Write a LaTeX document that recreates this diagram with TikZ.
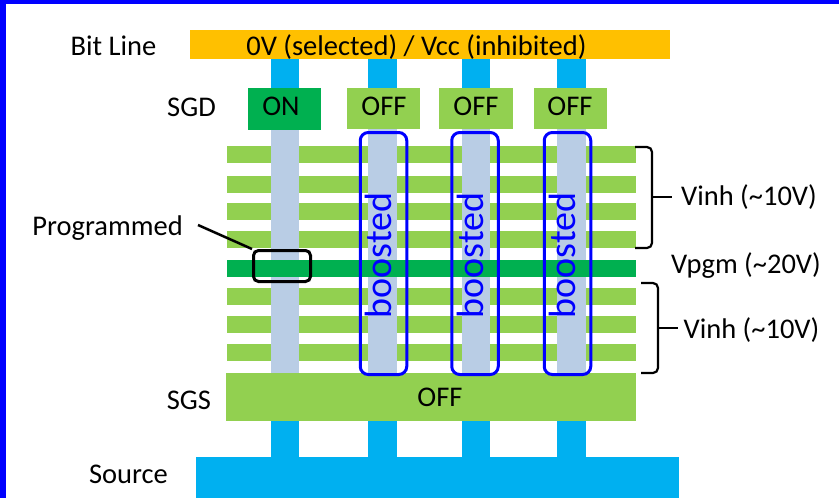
\documentclass[tikz,border=0pt]{standalone}
\usepackage{fontspec}
\setmainfont{Carlito}
\definecolor{bitorange}{HTML}{FFC000}
\definecolor{colblue}{HTML}{00B0F0}
\definecolor{dkgreen}{HTML}{00B050}
\definecolor{ltgreen}{HTML}{92D050}
\definecolor{chgray}{HTML}{B9CDE5}
\definecolor{boostblue}{HTML}{0000FF}
\begin{document}
\begin{tikzpicture}[x=1pt,y=-1pt,
  lbl/.style={inner sep=0pt,anchor=base,font=\fontsize{28.5}{30}\selectfont},
  boostbox/.style={draw=boostblue,line width=3pt,rounded corners=8pt,minimum width=46.5pt,minimum height=242pt,inner sep=0pt},
  boosttext/.style={inner sep=0pt,rotate=90,text=boostblue,font=\fontsize{38}{40}\selectfont},
  brace/.style={draw=black,line width=2.2pt,rounded corners=5pt},
]
\useasboundingbox (0,0) rectangle (839,498);
\fill[white] (0,0) rectangle (839,498);
% border
\fill[boostblue] (0,0) rectangle (6,498);
\fill[boostblue] (0,0) rectangle (839,4);
% bit line
\fill[bitorange] (190,30) rectangle (670,59);
% columns (upper and lower)
\foreach \a/\b in {271/299,368/397,462/490,557/586}{
  \fill[colblue] (\a,59) rectangle (\b,89);
  \fill[colblue] (\a,420) rectangle (\b,458);
}
% source
\fill[colblue] (196,457) rectangle (679,498);
% word lines
\foreach \t/\u in {146/163,176/193,203/220,231/248,288/305,316/333,344/361}{
  \fill[ltgreen] (227,\t) rectangle (636,\u);
}
% channels
\foreach \a/\b in {271/299,368/397,462/490,557/586}{
  \fill[chgray] (\a,129) rectangle (\b,373);
}
\fill[dkgreen] (227,260) rectangle (636,277);
% SGS
\fill[ltgreen] (226,373) rectangle (636,421);
% SGD
\fill[dkgreen] (248,88) rectangle (321,130);
\fill[ltgreen] (347,88) rectangle (420,129);
\fill[ltgreen] (439,88) rectangle (513,129);
\fill[ltgreen] (534,88) rectangle (607,129);
% texts
\node[lbl] (bitline) at (113.5,55) {Bit Line};
\node[lbl] (bltext) at (416.5,55) {0V (selected) / Vcc (inhibited)};
\node[lbl] (sgd) at (191.5,116) {SGD};
\node[lbl] (on) at (281,115) {ON};
\node[lbl] (off1) at (384,115) {OFF};
\node[lbl] (off2) at (476,115) {OFF};
\node[lbl] (off3) at (570,115) {OFF};
\node[lbl] (proglbl) at (107.5,235) {Programmed};
\node[lbl] (vinh1) at (749,205) {Vinh (\char`~10V)};
\node[lbl] (vpgm) at (746,273) {Vpgm (\char`~20V)};
\node[lbl] (vinh2) at (751.5,338) {Vinh (\char`~10V)};
\node[lbl] (sgs) at (189,409) {SGS};
\node[lbl] (sgsoff) at (440,406) {OFF};
\node[lbl] (source) at (128.5,483) {Source};
% boosted boxes
\node[boostbox] (bb1) at (383.5,253.5) {};
\node[boostbox] (bb2) at (475,253.5) {};
\node[boostbox] (bb3) at (567.5,253.5) {};
\node[boosttext] (bt1) at (378.5,255.5) {boosted};
\node[boosttext] (bt2) at (470,255.5) {boosted};
\node[boosttext] (bt3) at (562.5,255.5) {boosted};
% programmed
\node[draw=black,line width=3pt,rounded corners=5pt,minimum width=57pt,minimum height=31pt,inner sep=0pt] (prog) at (282,266) {};
\coordinate (lstart) at (198,225);
\draw[line width=2.5pt] (lstart) -- (prog.north west);
% braces
\coordinate (b1t) at (635,147);
\coordinate (b1b) at (635,248);
\coordinate (b1m) at (672,197);
\draw[brace] (b1t) -- (652,147) -- (652,248) -- (b1b);
\draw[brace] (652,197) -- (b1m);
\coordinate (b2t) at (641,283);
\coordinate (b2b) at (641,373);
\coordinate (b2m) at (678,328);
\draw[brace] (b2t) -- (658,283) -- (658,373) -- (b2b);
\draw[brace] (658,328) -- (b2m);
\end{tikzpicture}
\end{document}
